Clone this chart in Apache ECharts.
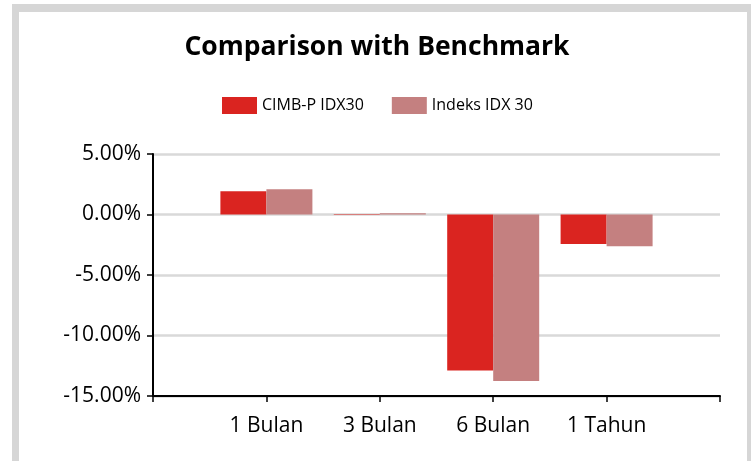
<!DOCTYPE html>
<html>
<head>
<meta charset="utf-8">
<script src="https://cdn.jsdelivr.net/npm/echarts@6/dist/echarts.min.js"></script>
<style>
html, body { margin: 0; padding: 0; background: #fff; }
#container_bar { width: 754px; height: 461px; }
</style>
</head>
<body>
<div id="container_bar"></div>
<script>
// categories and values (percent)
var categories = ['1 Bulan', '3 Bulan', '6 Bulan', '1 Tahun'];
var fundName = 'CIMB-P IDX30';
var indexName = 'Indeks IDX 30';
var fundValues = [1.93, -0.05, -12.9, -2.43];
var indexValues = [2.09, 0.1, -13.77, -2.62];
var yTicks = [-15, -10, -5, 0, 5];

var font = '"Open Sans", "Noto Sans", sans-serif';

// empty slot at both ends so the bars sit on the ticks
function pad(arr, fill) {
	return [fill].concat(arr).concat([fill]);
}

var dom = document.getElementById('container_bar');
var myChart = echarts.init(dom, null, { renderer: 'canvas' });

option = {
	animation: false,
	textStyle: { fontFamily: font },
	title: {
		text: 'Comparison with Benchmark',
		left: 'center',
		top: 29,
		textStyle: { fontFamily: font, fontSize: 26.5, fontWeight: 'bold', color: '#000' }
	},
	legend: {
		left: 217,
		top: 92,
		itemWidth: 35,
		itemHeight: 17,
		itemGap: 28,
		icon: 'rect',
		textStyle: { fontFamily: font, fontSize: 16, color: '#000', padding: [0, 0, 0, 0] },
		data: [fundName, indexName]
	},
	grid: {
		left: 153,
		right: 34,
		top: 154,
		bottom: 65
	},
	xAxis: {
		type: 'category',
		boundaryGap: false,
		data: pad(categories, ''),
		axisLine: { onZero: false, lineStyle: { color: '#000', width: 2 } },
		axisTick: { show: true, length: 6, lineStyle: { color: '#000', width: 1.5 } },
		axisLabel: { fontFamily: font, fontSize: 21, color: '#000', margin: 20 },
		splitLine: { show: false }
	},
	yAxis: {
		type: 'value',
		min: yTicks[0],
		max: yTicks[yTicks.length - 1],
		interval: 5,
		axisLine: { show: true, lineStyle: { color: '#000', width: 2 } },
		axisTick: { show: true, length: 6, lineStyle: { color: '#000', width: 1.5 } },
		axisLabel: {
			fontFamily: font, fontSize: 21, color: '#000', margin: 12,
			formatter: function(v) { return v.toFixed(2) + '%'; }
		},
		splitLine: { show: true, lineStyle: { color: '#d9d9d9', width: 2.5 } }
	},
	graphic: [
		{ type: 'rect', shape: { x: 12, y: 4, width: 739, height: 8 }, style: { fill: '#d6d6d6' }, silent: true },
		{ type: 'rect', shape: { x: 12, y: 4, width: 7, height: 457 }, style: { fill: '#d6d6d6' }, silent: true },
		{ type: 'rect', shape: { x: 747, y: 4, width: 4, height: 457 }, style: { fill: '#d6d6d6' }, silent: true }
	],
	series: [
		{
			name: fundName,
			type: 'bar',
			barWidth: 46,
			barGap: '0%',
			itemStyle: { color: '#da2420' },
			data: pad(fundValues, null)
		},
		{
			name: indexName,
			type: 'bar',
			barWidth: 46,
			barGap: '0%',
			itemStyle: { color: '#c48080' },
			data: pad(indexValues, null)
		}
	]
};

if (option && typeof option === "object") {
	myChart.setOption(option, true);
}
</script>
</body>
</html>
